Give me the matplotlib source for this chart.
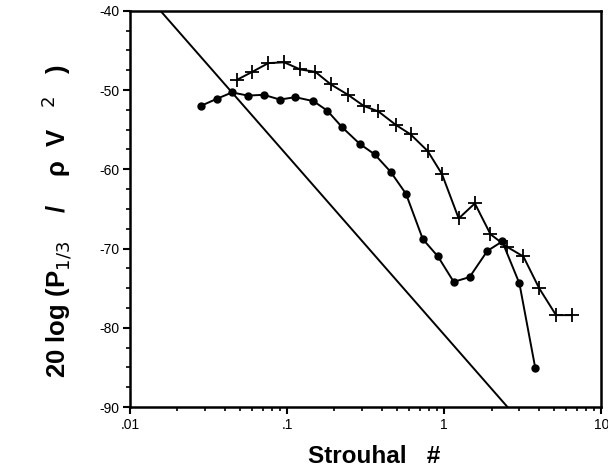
import matplotlib
matplotlib.use("Agg")
import matplotlib.pyplot as plt
from matplotlib.ticker import FixedLocator, MultipleLocator, LogLocator, NullFormatter

# filled-dot series
dot_x = [0.0282, 0.0357, 0.0446, 0.0562, 0.0709, 0.0898, 0.1126, 0.147, 0.180,
         0.224, 0.29, 0.36, 0.455, 0.571, 0.73, 0.912, 1.149, 1.45, 1.88,
         2.34, 3.01, 3.80]
dot_y = [-52.0, -51.1, -50.3, -50.7, -50.6, -51.2, -50.9, -51.4, -52.6,
         -54.7, -56.8, -58.1, -60.3, -63.1, -68.8, -71.0, -74.2, -73.6, -70.3,
         -69.1, -74.4, -85.1]

# plus series
plus_x = [0.048, 0.060, 0.0759, 0.0957, 0.121, 0.151, 0.190, 0.244, 0.307,
          0.381, 0.492, 0.611, 0.785, 0.967, 1.236, 1.566, 1.97, 2.52, 3.19,
          4.02, 5.15, 6.52]
plus_y = [-48.7, -47.7, -46.6, -46.5, -47.4, -47.7, -49.3, -50.6, -52.0,
          -52.7, -54.4, -55.6, -57.7, -60.6, -66.2, -64.3, -68.2, -69.8, -71.0,
          -75.0, -78.4, -78.4]

# reference slope line
ref_x = [0.0156, 2.53]
ref_y = [-40, -90]

xticks = [0.01, 0.1, 1, 10]
xticklabels = [".01", ".1", "1", "10"]
yticks = [-90, -80, -70, -60, -50, -40]

plt.rcParams['font.family'] = ['Liberation Sans', 'DejaVu Sans']

fig = plt.figure(figsize=(6.08, 4.69), dpi=100)
ax = fig.add_axes([0.214, 0.132, 0.775, 0.845])

ax.plot(ref_x, ref_y, color='black', lw=1.4)
ax.plot(dot_x, dot_y, color='black', lw=1.4, marker='o', ms=5)
ax.plot(plus_x, plus_y, color='black', lw=1.4, marker='+', ms=10, mew=1.3)

ax.set_xscale('log')
ax.set_xlim(0.01, 10)
ax.set_ylim(-90, -40)

ax.xaxis.set_major_locator(FixedLocator(xticks))
ax.set_xticklabels(xticklabels)
ax.xaxis.set_minor_locator(LogLocator(base=10, subs=range(2, 10)))
ax.xaxis.set_minor_formatter(NullFormatter())
ax.set_yticks(yticks)
ax.set_yticklabels([str(v) for v in yticks])
ax.yaxis.set_minor_locator(MultipleLocator(2.5))

ax.tick_params(which='major', direction='out', length=5, width=1.5, labelsize=10, pad=3)
ax.tick_params(which='minor', direction='out', length=3, width=1.2)
for s in ax.spines.values():
    s.set_linewidth(1.8)

ax.set_xlabel("Strouhal   #", fontsize=17.5, fontweight='bold')
ax.xaxis.set_label_coords(0.517, -0.095)
ax.set_ylabel(r"20 log (P$_{1/3}$    /    ρ  V   $^{2}$   )", fontsize=18.5,
              fontweight='bold')
ax.yaxis.set_label_coords(-0.12, 0.47)

fig.savefig("out.png", dpi=100)
